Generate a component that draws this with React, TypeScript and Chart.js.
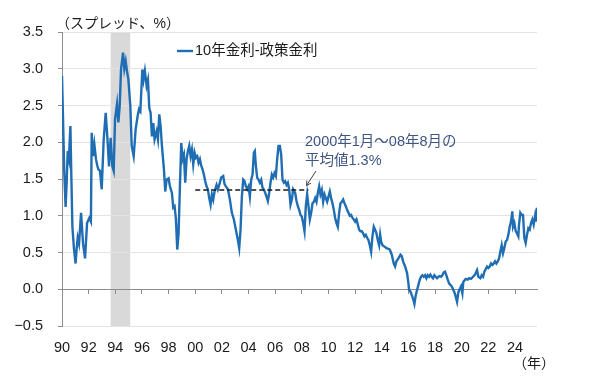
import React, { useEffect, useRef } from "react";
import { Chart, registerables } from "chart.js";

Chart.register(...registerables);

// ---- data ----
const seriesLabel = "10年金利-政策金利";

const t1990s = [1990.00, 1990.08, 1990.17, 1990.27, 1990.35, 1990.43, 1990.52, 1990.63, 1990.70, 1990.78, 1990.90, 1991.02, 1991.10, 1991.18, 1991.28, 1991.43, 1991.58, 1991.73, 1991.88, 1992.05, 1992.17, 1992.23, 1992.33, 1992.43, 1992.55, 1992.65, 1992.73, 1992.85, 1992.98, 1993.13, 1993.28, 1993.40, 1993.53, 1993.65, 1993.78, 1993.88, 1993.98, 1994.13, 1994.23, 1994.33, 1994.43, 1994.58, 1994.68, 1994.78, 1994.88, 1994.98, 1995.13, 1995.23, 1995.38, 1995.53, 1995.68, 1995.78, 1995.88, 1996.03, 1996.12, 1996.22, 1996.35, 1996.45, 1996.55, 1996.65, 1996.75, 1996.85, 1996.95, 1997.10, 1997.20, 1997.30, 1997.40, 1997.50, 1997.65, 1997.75, 1997.85, 1998.00, 1998.10, 1998.25, 1998.35, 1998.45, 1998.55, 1998.65, 1998.75, 1998.85, 1998.95, 1999.05, 1999.15, 1999.25, 1999.35, 1999.45, 1999.55, 1999.65, 1999.75, 1999.85, 1999.95];
const v1990s = [2.90, 2.30, 1.60, 1.12, 1.45, 1.88, 1.78, 2.22, 1.55, 0.85, 0.55, 0.35, 0.55, 0.70, 0.62, 1.04, 0.62, 0.42, 0.90, 0.97, 0.92, 2.13, 1.81, 1.97, 1.77, 1.68, 1.63, 1.61, 1.36, 2.04, 2.40, 2.08, 1.67, 2.06, 1.67, 1.61, 2.31, 2.52, 2.27, 2.49, 2.99, 3.22, 3.00, 3.10, 2.96, 2.86, 2.49, 1.95, 1.81, 2.18, 2.36, 2.45, 2.42, 2.99, 2.85, 2.97, 2.77, 2.85, 2.47, 2.40, 2.08, 2.26, 2.04, 2.15, 2.04, 2.38, 2.22, 1.95, 1.63, 1.33, 1.49, 1.51, 1.40, 1.31, 1.11, 1.13, 0.95, 0.54, 0.76, 1.40, 1.99, 1.77, 1.83, 1.45, 1.77, 1.88, 1.95, 1.81, 1.90, 1.70, 1.86];

const t2000s = [2000.05, 2000.15, 2000.25, 2000.35, 2000.45, 2000.55, 2000.65, 2000.75, 2000.85, 2000.95, 2001.05, 2001.15, 2001.25, 2001.35, 2001.45, 2001.60, 2001.70, 2001.80, 2001.95, 2002.10, 2002.20, 2002.30, 2002.45, 2002.60, 2002.75, 2002.90, 2003.05, 2003.20, 2003.30, 2003.40, 2003.50, 2003.60, 2003.70, 2003.80, 2003.90, 2004.00, 2004.10, 2004.20, 2004.30, 2004.40, 2004.47, 2004.55, 2004.65, 2004.75, 2004.85, 2004.95, 2005.05, 2005.15, 2005.25, 2005.35, 2005.45, 2005.55, 2005.65, 2005.75, 2005.85, 2005.95, 2006.05, 2006.15, 2006.25, 2006.35, 2006.45, 2006.55, 2006.65, 2006.75, 2006.85, 2006.95, 2007.05, 2007.15, 2007.25, 2007.35, 2007.50, 2007.60, 2007.70, 2007.80, 2007.90, 2008.00, 2008.10, 2008.20, 2008.30, 2008.40, 2008.50, 2008.60, 2008.70, 2008.80, 2008.90, 2009.00, 2009.10, 2009.20, 2009.30, 2009.40, 2009.50, 2009.60, 2009.70, 2009.80, 2009.90];
const v2000s = [1.79, 1.81, 1.72, 1.77, 1.68, 1.63, 1.56, 1.47, 1.40, 1.36, 1.24, 1.15, 1.29, 1.22, 1.33, 1.42, 1.36, 1.42, 1.52, 1.54, 1.43, 1.40, 1.36, 1.22, 1.04, 0.95, 0.81, 0.67, 0.56, 0.81, 1.26, 1.49, 1.47, 1.40, 1.36, 1.40, 1.26, 1.49, 1.56, 1.86, 1.88, 1.68, 1.52, 1.49, 1.45, 1.49, 1.38, 1.36, 1.31, 1.26, 1.20, 1.31, 1.45, 1.56, 1.52, 1.58, 1.54, 1.77, 1.95, 1.95, 1.83, 1.49, 1.45, 1.47, 1.42, 1.45, 1.36, 1.15, 1.22, 1.36, 1.31, 1.20, 1.13, 1.08, 1.01, 0.99, 0.90, 0.79, 1.13, 1.29, 1.13, 0.95, 1.04, 1.17, 1.19, 1.24, 1.19, 1.31, 1.40, 1.29, 1.35, 1.19, 1.29, 1.24, 1.19];

const t2010s = [2010.00, 2010.10, 2010.20, 2010.30, 2010.40, 2010.50, 2010.60, 2010.70, 2010.80, 2010.90, 2011.00, 2011.10, 2011.20, 2011.30, 2011.40, 2011.50, 2011.60, 2011.70, 2011.80, 2011.90, 2012.00, 2012.10, 2012.20, 2012.30, 2012.40, 2012.50, 2012.60, 2012.70, 2012.80, 2012.90, 2013.00, 2013.10, 2013.20, 2013.30, 2013.40, 2013.50, 2013.60, 2013.70, 2013.80, 2013.88, 2013.95, 2014.05, 2014.20, 2014.35, 2014.50, 2014.60, 2014.75, 2014.90, 2015.00, 2015.10, 2015.25, 2015.40, 2015.50, 2015.60, 2015.75, 2015.90, 2016.00, 2016.05, 2016.15, 2016.25, 2016.35, 2016.45, 2016.55, 2016.65, 2016.75, 2016.85, 2016.95, 2017.05, 2017.15, 2017.25, 2017.35, 2017.45, 2017.55, 2017.65, 2017.75, 2017.85, 2017.95, 2018.05, 2018.15, 2018.25, 2018.35, 2018.45, 2018.55, 2018.65, 2018.75, 2018.85, 2018.95, 2019.05, 2019.15, 2019.25, 2019.35, 2019.45, 2019.55, 2019.65, 2019.75, 2019.85, 2019.95];
const v2010s = [1.26, 1.33, 1.24, 1.17, 1.08, 0.97, 0.90, 0.85, 1.04, 1.17, 1.19, 1.22, 1.17, 1.13, 1.08, 1.04, 1.00, 1.01, 0.97, 0.95, 0.92, 0.95, 0.88, 0.81, 0.79, 0.79, 0.76, 0.72, 0.74, 0.70, 0.67, 0.60, 0.51, 0.72, 0.85, 0.81, 0.76, 0.67, 0.60, 0.74, 0.65, 0.60, 0.58, 0.56, 0.55, 0.54, 0.47, 0.35, 0.31, 0.38, 0.42, 0.47, 0.45, 0.38, 0.31, 0.22, 0.08, -0.01, -0.03, -0.08, -0.13, -0.20, -0.08, -0.01, 0.06, 0.13, 0.17, 0.19, 0.17, 0.19, 0.15, 0.19, 0.17, 0.20, 0.17, 0.15, 0.19, 0.17, 0.15, 0.17, 0.18, 0.17, 0.19, 0.23, 0.24, 0.19, 0.13, 0.08, 0.06, 0.04, 0.00, -0.04, -0.10, -0.17, -0.04, 0.00, 0.04];

const t2020s = [2020.05, 2020.12, 2020.20, 2020.30, 2020.45, 2020.55, 2020.70, 2020.85, 2021.00, 2021.15, 2021.25, 2021.40, 2021.50, 2021.60, 2021.70, 2021.90, 2022.00, 2022.10, 2022.20, 2022.30, 2022.40, 2022.50, 2022.60, 2022.70, 2022.80, 2022.90, 2023.00, 2023.10, 2023.20, 2023.30, 2023.40, 2023.50, 2023.60, 2023.70, 2023.80, 2023.85, 2023.95, 2024.05, 2024.15, 2024.25, 2024.30, 2024.40, 2024.50, 2024.60, 2024.70, 2024.80, 2024.90, 2025.00, 2025.10, 2025.20, 2025.30, 2025.40, 2025.50, 2025.55, 2025.65];
const v2020s = [-0.05, 0.10, 0.12, 0.14, 0.13, 0.15, 0.14, 0.17, 0.20, 0.26, 0.17, 0.15, 0.19, 0.17, 0.24, 0.31, 0.29, 0.31, 0.35, 0.33, 0.35, 0.38, 0.35, 0.38, 0.42, 0.51, 0.60, 0.49, 0.56, 0.65, 0.67, 0.74, 0.85, 0.92, 1.06, 0.85, 0.90, 0.79, 0.76, 0.72, 0.88, 1.04, 1.01, 1.01, 0.70, 0.63, 0.74, 0.83, 0.81, 0.90, 0.95, 0.88, 0.99, 0.92, 1.11];

// average 2000/1 - 2008/8
const avgStart = 2000.0;
const avgEnd = 2008.5;
const avgValue = 1.35;

// shaded period
const shadeStart = 1993.65;
const shadeEnd = 1995.12;

const xTickYears = [1990, 1992, 1994, 1996, 1998, 2000, 2002, 2004, 2006, 2008, 2010, 2012, 2014, 2016, 2018, 2020, 2022, 2024];
const yMin = -0.5;
const yMax = 3.5;
const yStep = 0.5;

const yAxisTitle = "（スプレッド、%）";
const xAxisUnit = "（年）";
const noteLines = ["2000年1月～08年8月の", "平均値1.3%"];

// ---- styles ----
const FONT = '"Liberation Sans", "Noto Sans CJK JP", sans-serif';
const LINE_BLUE = "#1f6db3";
const AXIS_GREY = "#8c8c8c";
const GRID_GREY = "#e3e3e3";
const TEXT = "#1a1a1a";
const NOTE = "#3f5583";

const toPoints = (t: number[], v: number[]) => t.map((x, i) => ({ x, y: v[i] }));

export default function App() {
  const ref = useRef<HTMLCanvasElement | null>(null);

  useEffect(() => {
    if (!ref.current) return;
    const spread = [
      ...toPoints(t1990s, v1990s),
      ...toPoints(t2000s, v2000s),
      ...toPoints(t2010s, v2010s),
      ...toPoints(t2020s, v2020s),
    ];
    const xMax = spread[spread.length - 1].x;

    const overlay = {
      id: "overlay",
      beforeDraw(chart: any) {
        const { ctx, chartArea, scales } = chart;
        const xs = scales.x;
        const x1 = xs.getPixelForValue(shadeStart);
        const x2 = xs.getPixelForValue(shadeEnd);
        ctx.save();
        ctx.fillStyle = "#d9d9d9";
        ctx.fillRect(x1, chartArea.top, x2 - x1, chartArea.bottom - chartArea.top);
        ctx.restore();
      },
      afterDraw(chart: any) {
        const { ctx, chartArea } = chart;
        ctx.save();
        // y-axis title
        ctx.fillStyle = TEXT;
        ctx.font = `14px ${FONT}`;
        ctx.textAlign = "left";
        ctx.textBaseline = "middle";
        ctx.fillText(yAxisTitle, chartArea.left - 6, 24);
        // x unit
        ctx.textAlign = "center";
        ctx.fillText(xAxisUnit, 534, 364);
        // legend
        ctx.strokeStyle = LINE_BLUE;
        ctx.lineWidth = 2.4;
        ctx.beginPath();
        ctx.moveTo(177, 51);
        ctx.lineTo(193, 51);
        ctx.stroke();
        ctx.fillStyle = TEXT;
        ctx.font = `14.5px ${FONT}`;
        ctx.textAlign = "left";
        ctx.fillText(seriesLabel, 195, 51);
        // note
        ctx.fillStyle = NOTE;
        ctx.fillText(noteLines[0], 305, 142);
        ctx.fillText(noteLines[1], 305, 161);
        // arrow
        const ax1 = 316, ay1 = 171, ax2 = 306.5, ay2 = 185.5;
        ctx.strokeStyle = "#404040";
        ctx.lineWidth = 1;
        ctx.beginPath();
        ctx.moveTo(ax1, ay1);
        ctx.lineTo(ax2, ay2);
        const ang = Math.atan2(ay2 - ay1, ax2 - ax1);
        const hl = 5;
        ctx.moveTo(ax2 - hl * Math.cos(ang - 0.5), ay2 - hl * Math.sin(ang - 0.5));
        ctx.lineTo(ax2, ay2);
        ctx.lineTo(ax2 - hl * Math.cos(ang + 0.5), ay2 - hl * Math.sin(ang + 0.5));
        ctx.stroke();
        ctx.restore();
      },
    };

    const chart = new Chart(ref.current, {
      type: "line",
      data: {
        datasets: [
          {
            label: "average",
            data: [
              { x: avgStart, y: avgValue },
              { x: avgEnd, y: avgValue },
            ],
            borderColor: "#1a1a1a",
            borderWidth: 1.5,
            borderDash: [5, 3],
            pointRadius: 0,
            order: 0,
          },
          {
            label: seriesLabel,
            data: spread,
            borderColor: LINE_BLUE,
            borderWidth: 2.4,
            pointRadius: 0,
            tension: 0,
            order: 1,
          },
        ],
      },
      options: {
        animation: false,
        responsive: true,
        maintainAspectRatio: false,
        layout: { padding: { left: 0, right: 63, top: 32, bottom: 0 } },
        plugins: { legend: { display: false }, tooltip: { enabled: false } },
        scales: {
          x: {
            type: "linear",
            position: "bottom",
            min: 1990,
            max: xMax,
            grid: { display: false },
            border: { display: false },
            ticks: {
              autoSkip: false,
              maxRotation: 0,
              padding: 5,
              color: TEXT,
              font: { family: FONT, size: 14.5 },
              callback: (v: any) => String(Number(v) % 100).padStart(2, "0"),
            },
            afterBuildTicks: (s: any) => {
              s.ticks = xTickYears.map((value) => ({ value }));
            },
            afterFit: (s: any) => {
              s.height = 56;
            },
          },
          x0: {
            type: "linear",
            axis: "x",
            position: { y: 0 },
            min: 1990,
            max: xMax,
            grid: { drawOnChartArea: false, drawTicks: true, tickLength: 4, color: AXIS_GREY },
            border: { display: true, color: AXIS_GREY, width: 1 },
            ticks: { display: false },
            afterBuildTicks: (s: any) => {
              s.ticks = xTickYears.slice(1).map((value) => ({ value }));
            },
          },
          y: {
            min: yMin,
            max: yMax,
            ticks: {
              stepSize: yStep,
              padding: 15,
              color: TEXT,
              font: { family: FONT, size: 14.5 },
              callback: (v: any) => {
                const n = Number(v);
                return n < 0 ? "−" + Math.abs(n).toFixed(1) : n.toFixed(1);
              },
            },
            grid: { color: GRID_GREY, tickColor: AXIS_GREY, tickLength: 4, drawTicks: true },
            border: { display: true, color: AXIS_GREY, width: 1 },
            afterFit: (s: any) => {
              s.width = 62;
            },
          },
        },
      },
      plugins: [overlay],
    } as any);

    return () => chart.destroy();
  }, []);

  return (
    <div style={{ position: "fixed", left: 0, top: 0, width: 600, height: 382, background: "#fff" }}>
      <canvas ref={ref} />
    </div>
  );
}
